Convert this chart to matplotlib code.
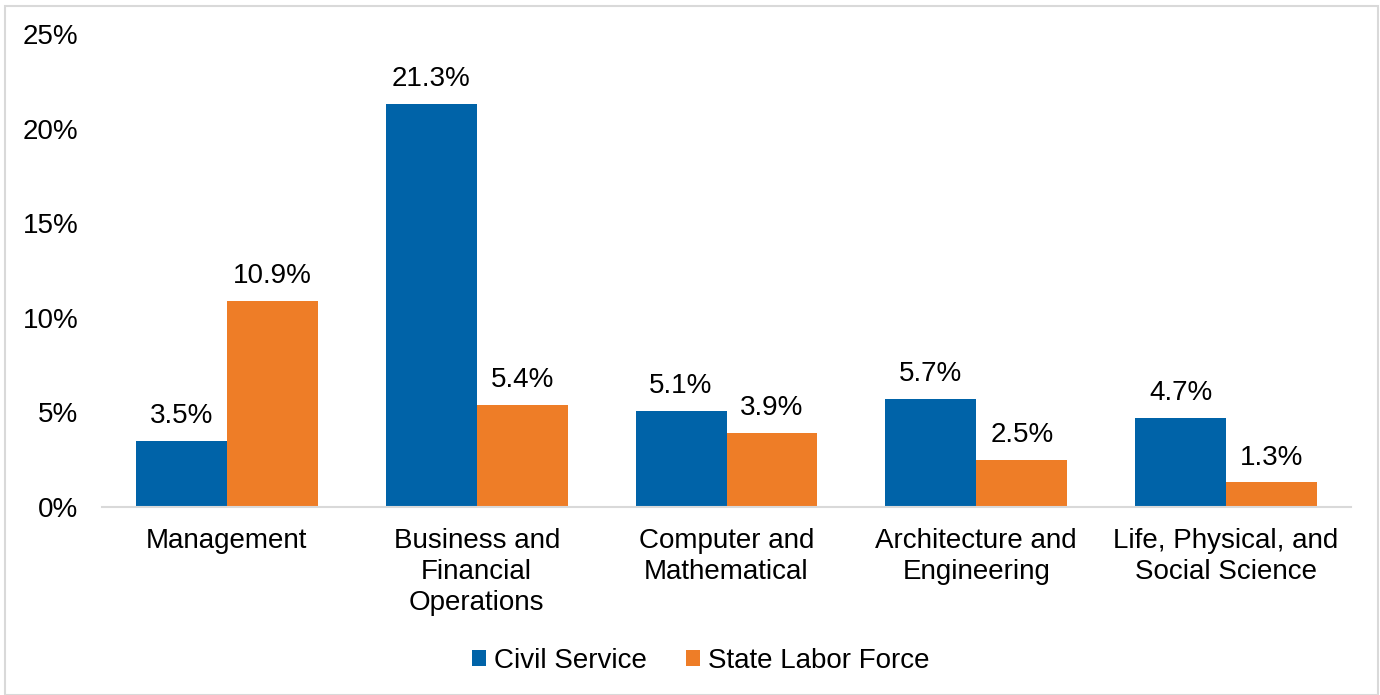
import matplotlib
matplotlib.use("Agg")
import matplotlib.pyplot as plt
from matplotlib.patches import Rectangle
import numpy as np

plt.rcParams['font.family'] = ['Liberation Sans', 'DejaVu Sans']

categories = ["Management", "Business and\nFinancial\nOperations", "Computer and\nMathematical",
              "Architecture and\nEngineering", "Life, Physical, and\nSocial Science"]
civil_service = [3.5, 21.3, 5.1, 5.7, 4.7]
state_labor = [10.9, 5.4, 3.9, 2.5, 1.3]
series_names = ["Civil Service", "State Labor Force"]
yticks = [0, 5, 10, 15, 20, 25]

blue = "#0063A8"
orange = "#EE7D27"
fs = 20

fig = plt.figure(figsize=(13.8, 6.95), dpi=100)
W, H = 1380, 695
ax = fig.add_axes([102 / W, 1 - 507 / H, (1351 - 102) / W, (507 - 34) / H])

x = np.arange(len(categories))
w = 0.364
b1 = ax.bar(x - w / 2, civil_service, w, color=blue, label=series_names[0])
b2 = ax.bar(x + w / 2, state_labor, w, color=orange, label=series_names[1])

for bars, vals in ((b1, civil_service), (b2, state_labor)):
    for r, v in zip(bars, vals):
        ax.annotate(f"{v:.1f}%", (r.get_x() + r.get_width() / 2, v), xytext=(0, 8.5),
                    textcoords="offset points", ha="center", va="bottom", fontsize=fs)

ax.set_xlim(-0.5, len(categories) - 0.5)
ax.set_ylim(0, 25)
ax.set_yticks(yticks)
ax.set_yticklabels([f"{t}%" for t in yticks], fontsize=fs)
ax.set_xticks(x)
ax.set_xticklabels(categories, fontsize=fs, linespacing=1.26, va="top")
ax.tick_params(axis="both", length=0)
ax.tick_params(axis="y", pad=17)
ax.tick_params(axis="x", pad=15)
for s in ("top", "right", "left"):
    ax.spines[s].set_visible(False)
ax.spines["bottom"].set_color("#D9D9D9")
ax.spines["bottom"].set_linewidth(1.5)

leg = fig.legend(handles=[b1, b2], labels=series_names, loc="center", bbox_to_anchor=(701 / W, 1 - 661 / H),
                 ncol=2, frameon=False, fontsize=fs, handlelength=0.5, handleheight=0.5,
                 handletextpad=0.3, columnspacing=1.4)

fig.patches.append(Rectangle((5 / W, 0), (1378 - 5) / W, 1 - 6 / H, transform=fig.transFigure,
                             fill=False, edgecolor="#D9D9D9", linewidth=1.5))

fig.savefig("out.png", dpi=100)
